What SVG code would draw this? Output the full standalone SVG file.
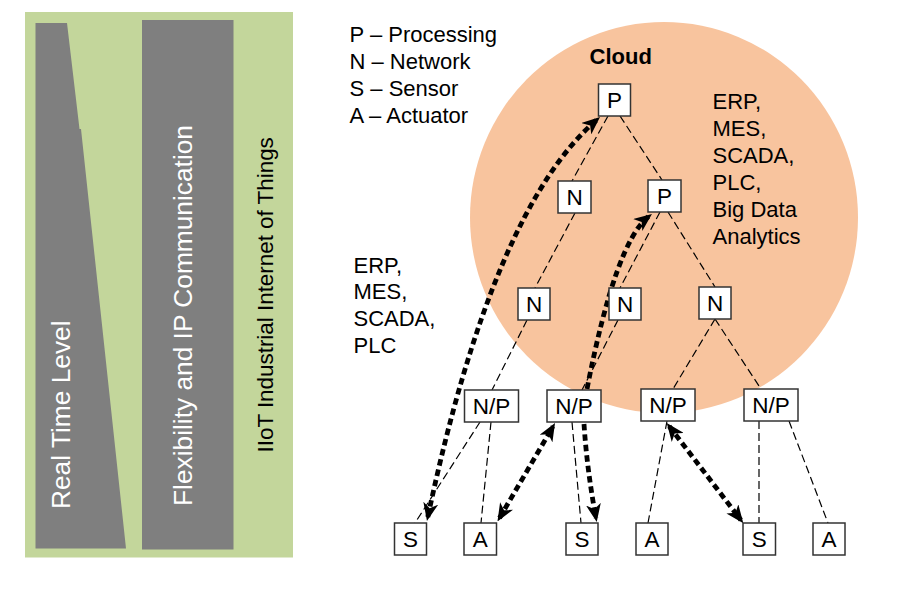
<svg xmlns="http://www.w3.org/2000/svg" width="914" height="589" viewBox="0 0 914 589">
<style>
.box{fill:#fff;stroke:#333;stroke-width:1.5}
.lbl{font-family:"Liberation Sans",Arial,sans-serif;font-size:22.5px;fill:#000;text-anchor:middle}
.txt{font-family:"Liberation Sans",Arial,sans-serif;font-size:22px;fill:#000}
.thin{fill:none;stroke:#000;stroke-width:1.2;stroke-dasharray:8 4}
.thick{fill:none;stroke:#000;stroke-width:4.8;stroke-dasharray:6.5 4}
.side{font-family:"Liberation Sans",Arial,sans-serif;font-size:26.3px;fill:#fff}
</style>
<defs>
<marker id="ah" markerUnits="userSpaceOnUse" markerWidth="18" markerHeight="15" viewBox="0 0 18 15" refX="14" refY="7.5" orient="auto-start-reverse">
<path d="M0,0 L18,7.5 L0,15 L5,7.5 z" fill="#000"/>
</marker>
</defs>
<rect width="914" height="589" fill="#fff"/>

<g id="left-panel">
<rect x="25" y="12" width="268" height="545.5" fill="#C3D69B"/>
<polygon points="35.5,23 67,23 79.5,129 81,129 126,548.5 35.5,548.5" fill="#7F7F7F"/>
<rect x="142" y="20" width="91.5" height="529.5" fill="#7F7F7F"/>
<text class="side" transform="translate(70,509) rotate(-90)">Real Time Level</text>
<text class="side" transform="translate(191.5,506) rotate(-90)">Flexibility and IP Communication</text>
<text transform="translate(273.3,452.5) rotate(-90)" font-family="Liberation Sans, Arial, sans-serif" font-size="22.4" fill="#000">IIoT Industrial Internet of Things</text>
</g>

<ellipse id="cloud-area" cx="664" cy="217.5" rx="194" ry="195.5" fill="#F8C49E"/>

<g id="legend">
<text class="txt" x="349.5" y="42">P – Processing</text>
<text class="txt" x="349.5" y="69">N – Network</text>
<text class="txt" x="349.5" y="96">S – Sensor</text>
<text class="txt" x="349.5" y="123">A – Actuator</text>
</g>

<text id="cloud-title" x="589.5" y="64" font-family="Liberation Sans, Arial, sans-serif" font-size="22" font-weight="bold" fill="#000">Cloud</text>

<g id="cloud-apps">
<text class="txt" x="712.5" y="109">ERP,</text>
<text class="txt" x="712.5" y="136">MES,</text>
<text class="txt" x="712.5" y="163">SCADA,</text>
<text class="txt" x="712.5" y="190">PLC,</text>
<text class="txt" x="712.5" y="217">Big Data</text>
<text class="txt" x="712.5" y="244">Analytics</text>
</g>

<g id="edge-apps">
<text class="txt" x="353.5" y="272.7">ERP,</text>
<text class="txt" x="353.5" y="299.3">MES,</text>
<text class="txt" x="353.5" y="326">SCADA,</text>
<text class="txt" x="353.5" y="352.5">PLC</text>
</g>

<g id="connectors">
<line class="thin" x1="608" y1="116" x2="572" y2="181"/>
<line class="thin" x1="620" y1="116" x2="662" y2="180"/>
<line class="thin" x1="575" y1="213" x2="535" y2="288"/>
<line class="thin" x1="660" y1="212" x2="620" y2="288"/>
<line class="thin" x1="668" y1="212" x2="715" y2="287"/>
<line class="thin" x1="527" y1="320" x2="492" y2="390"/>
<line class="thin" x1="618" y1="320" x2="582" y2="390"/>
<line class="thin" x1="715" y1="319" x2="673" y2="389"/>
<line class="thin" x1="715" y1="319" x2="761" y2="389"/>
<line class="thin" x1="480" y1="422" x2="415" y2="523"/>
<line class="thin" x1="491" y1="422" x2="481" y2="523"/>
<line class="thin" x1="572" y1="422" x2="581" y2="523"/>
<line class="thin" x1="667" y1="421" x2="648" y2="523"/>
<line class="thin" x1="759" y1="421" x2="759" y2="523"/>
<line class="thin" x1="789" y1="421" x2="828" y2="523"/>
<path class="thick" d="M427.8,517 Q493,209 597,119.6" marker-start="url(#ah)" marker-end="url(#ah)"/>
<path class="thick" d="M587,389 Q615.7,242 648.8,216.4" marker-end="url(#ah)"/>
<path class="thick" d="M499.5,518 L553,426.5" marker-start="url(#ah)" marker-end="url(#ah)"/>
<path class="thick" d="M584,424 Q587,470 596,518" marker-end="url(#ah)"/>
<path class="thick" d="M669.2,426.3 L740.9,520" marker-start="url(#ah)" marker-end="url(#ah)"/>
</g>

<g id="node-p-top"><rect class="box" x="598.5" y="84" width="32" height="32"/><text class="lbl" x="614.5" y="108">P</text></g>
<g id="node-n-l2"><rect class="box" x="558" y="181" width="33" height="32"/><text class="lbl" x="574.5" y="205">N</text></g>
<g id="node-p-l2"><rect class="box" x="648" y="180" width="33" height="32"/><text class="lbl" x="664.5" y="204">P</text></g>
<g id="node-n1"><rect class="box" x="518" y="288" width="32" height="32"/><text class="lbl" x="534" y="312">N</text></g>
<g id="node-n2"><rect class="box" x="609" y="288" width="32" height="32"/><text class="lbl" x="625" y="312">N</text></g>
<g id="node-n3"><rect class="box" x="699" y="287" width="32" height="32"/><text class="lbl" x="715" y="311">N</text></g>
<g id="node-np1"><rect class="box" x="464.5" y="390" width="54" height="32"/><text class="lbl" x="491.5" y="414">N/P</text></g>
<g id="node-np2"><rect class="box" x="547" y="390" width="54" height="32"/><text class="lbl" x="574" y="414">N/P</text></g>
<g id="node-np3"><rect class="box" x="641" y="389" width="54" height="32"/><text class="lbl" x="668" y="413">N/P</text></g>
<g id="node-np4"><rect class="box" x="744" y="389" width="54" height="32"/><text class="lbl" x="771" y="413">N/P</text></g>
<g id="node-s1"><rect class="box" x="394.5" y="523" width="32" height="32"/><text class="lbl" x="410.5" y="547">S</text></g>
<g id="node-a1"><rect class="box" x="464" y="523" width="32.5" height="32"/><text class="lbl" x="480.2" y="547">A</text></g>
<g id="node-s2"><rect class="box" x="566" y="523" width="32" height="32"/><text class="lbl" x="582" y="547">S</text></g>
<g id="node-a2"><rect class="box" x="636" y="523" width="32" height="32"/><text class="lbl" x="652" y="547">A</text></g>
<g id="node-s3"><rect class="box" x="743" y="523" width="32.5" height="32"/><text class="lbl" x="759.2" y="547">S</text></g>
<g id="node-a3"><rect class="box" x="813" y="523" width="32" height="32"/><text class="lbl" x="829" y="547">A</text></g>
</svg>
